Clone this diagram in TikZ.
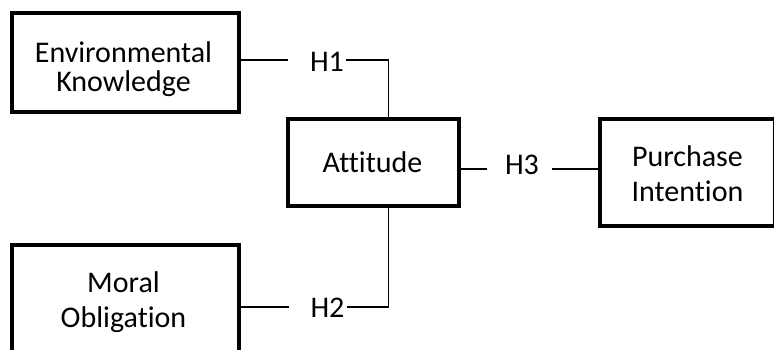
\documentclass[tikz,border=0pt]{standalone}
\usepackage{fontspec}
\setmainfont[Ligatures={NoCommon}]{Carlito}
\begin{document}
\begin{tikzpicture}[x=1pt,y=-1pt,
  box/.style={draw=black, line width=3.2pt, rectangle, inner sep=0pt},
  lbl/.style={align=center, inner sep=0pt, font=\fontsize{30}{35}\selectfont},
  hyp/.style={inner sep=0pt, font=\fontsize{30}{35}\selectfont},
  conn/.style={draw=black, line width=1.1pt}]
\useasboundingbox (0,0) rectangle (774,350);
\clip (0,0) rectangle (774,350);
% boxes
\node[box, minimum width=227pt, minimum height=99pt] (env) at (125.5,62.5) {};
\node[box, minimum width=171pt, minimum height=87pt] (att) at (373.5,162.5) {};
\node[box, minimum width=175pt, minimum height=107pt] (pur) at (687.5,172.5) {};
\node[box, minimum width=227pt, minimum height=114pt] (mor) at (125.5,302) {};
% texts
\node[lbl, font=\fontsize{30}{29}\selectfont] (envt) at (123.5,69) {Environmental\\Knowledge};
\node[lbl] (attt) at (372.5,162) {Attitude};
\node[lbl] (purt) at (687.5,173.5) {Purchase\\Intention};
\node[lbl] (mort) at (123.5,302) {Moral\\Obligation};
% hypotheses
\node[hyp] (h1) at (327,61.7) {H1};
\node[hyp] (h2) at (327.5,308) {H2};
\node[hyp] (h3) at (522,165) {H3};
% connectors
\draw[conn] (env.east |- 0,60) -- (288,60);
\draw[conn] (346,60) -| ([xshift=15pt]att.north);
\draw[conn] (mor.east |- 0,307) -- (289,307);
\draw[conn] (347,307) -| ([xshift=15pt]att.south);
\draw[conn] (att.east |- 0,169) -- (487,169);
\draw[conn] (552,169) -- (pur.west |- 0,169);
\end{tikzpicture}
\end{document}
